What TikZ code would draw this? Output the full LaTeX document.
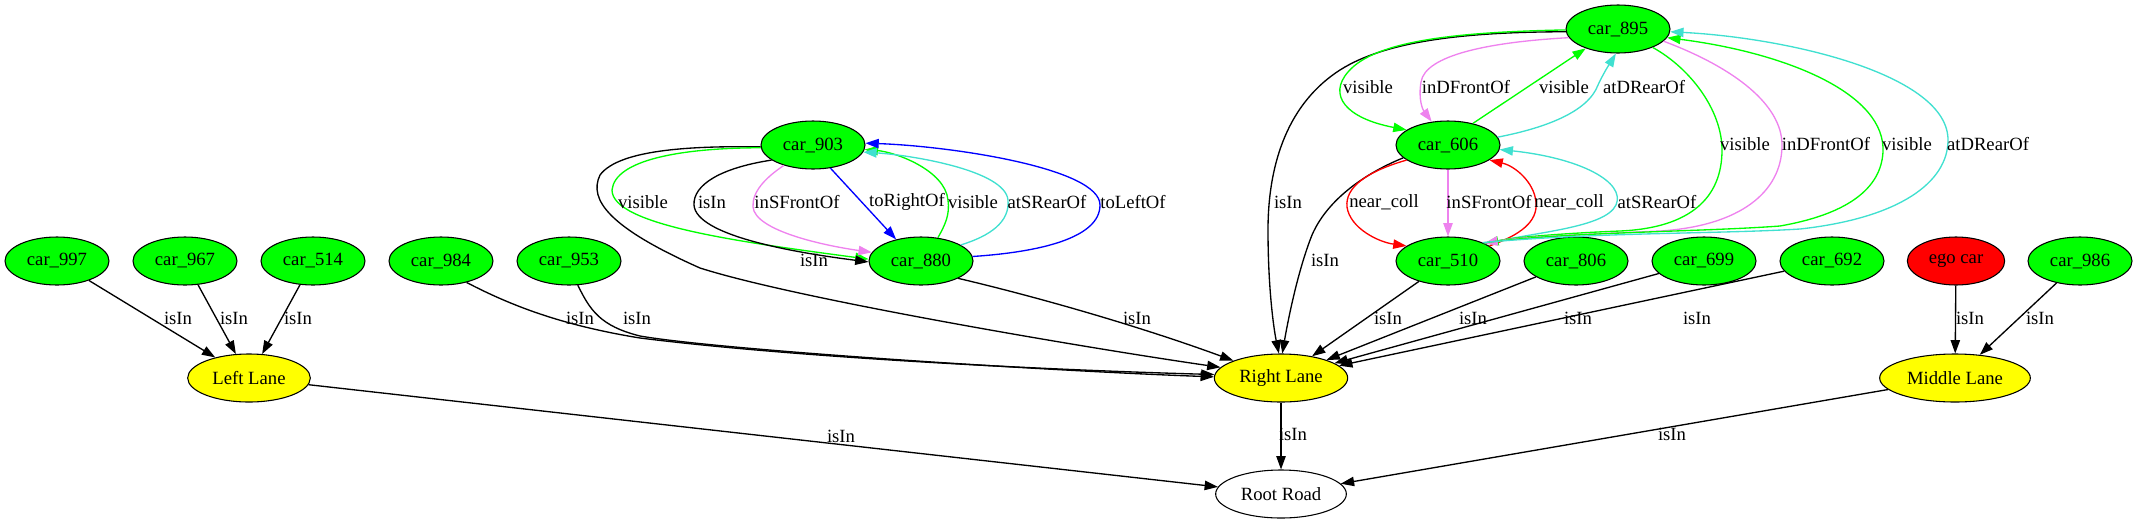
\documentclass[tikz,border=0pt]{standalone}
\usepackage{fontspec}
\setmainfont{Liberation Serif}
\usetikzlibrary{shapes.geometric,arrows.meta}
\definecolor{gvgreen}{HTML}{00FF00}
\definecolor{gvviolet}{HTML}{EE82EE}
\definecolor{gvturq}{HTML}{40E0D0}
\definecolor{gvyellow}{HTML}{FFFF00}
\definecolor{gvred}{HTML}{FF0000}
\definecolor{gvblue}{HTML}{0000FF}
\begin{document}
\begin{tikzpicture}[x=0.75bp,y=-0.75bp,
  every node/.style={font=\fontsize{14bp}{16bp}\selectfont},
  gnode/.style={ellipse,draw,line width=0.8bp,minimum height=36bp,inner sep=0pt},
  car/.style={gnode,fill=gvgreen,minimum width=78bp},
  lane/.style={gnode,fill=gvyellow},
  conn/.style={line width=1bp,-{Triangle[length=10bp,width=7bp]}},
  lbl/.style={inner sep=0pt}]
\useasboundingbox (0,0) rectangle (2137,523);
% nodes
\node[car] (c997) at (57,261) {car\_997};
\node[car] (c967) at (185,261) {car\_967};
\node[car] (c514) at (313,261) {car\_514};
\node[car] (c984) at (441,261) {car\_984};
\node[car] (c953) at (569,261) {car\_953};
\node[car] (c903) at (813,145) {car\_903};
\node[car] (c880) at (921,261) {car\_880};
\node[car] (c895) at (1618,29) {car\_895};
\node[car] (c606) at (1448,145) {car\_606};
\node[car] (c510) at (1448,261) {car\_510};
\node[car] (c806) at (1576,261) {car\_806};
\node[car] (c699) at (1704,261) {car\_699};
\node[car] (c692) at (1832,261) {car\_692};
\node[gnode,fill=gvred,minimum width=73bp] (ego) at (1956,261) {ego car};
\node[car] (c986) at (2080,261) {car\_986};
\node[lane,minimum width=92bp] (LL) at (249,378) {Left Lane};
\node[lane,minimum width=100bp] (RL) at (1281,378) {Right Lane};
\node[lane,minimum width=113bp] (ML) at (1955,378) {Middle Lane};
\node[gnode,fill=white,minimum width=98bp] (RR) at (1281,494) {Root Road};
% left lane group
\draw[conn] (c997) -- (LL);
\draw[conn] (c967) -- (LL);
\draw[conn] (c514) -- (LL);
\draw[conn] (LL) -- (RR);
\draw[conn] (c984.320) .. controls (510,305) and (560,325) .. (640,338) .. controls (800,358) and (1050,370) .. (RL.177);
\draw[conn] (c953.290) .. controls (590,310) and (600,326) .. (640,336) .. controls (720,350) and (1050,371) .. (RL.179);
% 903 / 880 group
\draw[conn] (c903.182) .. controls (700,146) and (620,148) .. (600,175) .. controls (588,200) and (610,228) .. (700,268) .. controls (800,300) and (1100,350) .. (RL.170);
\draw[conn] (c880.335) .. controls (1050,300) and (1150,330) .. (RL.160);
\draw[conn,gvgreen] (c903.183) .. controls (680,148) and (615,160) .. (612,190) .. controls (612,225) and (740,242) .. (c880.178);
\draw[conn] (c903.200) .. controls (720,168) and (693,185) .. (694,205) .. controls (696,235) and (790,252) .. (c880.181);
\draw[conn,gvviolet] (c903.215) .. controls (765,178) and (752,192) .. (753,207) .. controls (755,230) and (820,245) .. (c880.170);
\draw[conn,gvblue] (c903.307) -- (c880.139);
\draw[conn,gvgreen] (c880.54) .. controls (945,225) and (950,215) .. (948,200) .. controls (945,170) and (895,152) .. (c903.355);
\draw[conn,gvturq] (c880.22) .. controls (990,236) and (1010,222) .. (1008,200) .. controls (1005,170) and (910,155) .. (c903.352);
\draw[conn,gvblue] (c880.5) .. controls (1040,252) and (1100,238) .. (1100,205) .. controls (1100,168) and (950,146) .. (c903.2);
% 895 / 606 / 510 group
\draw[conn] (c895.183) .. controls (1480,32) and (1390,38) .. (1340,70) .. controls (1290,102) and (1268,160) .. (1268,230) .. controls (1268,290) and (1274,330) .. (RL.95);
\draw[conn,gvgreen] (c895.181) .. controls (1460,32) and (1375,40) .. (1348,72) .. controls (1328,95) and (1345,118) .. (c606.160);
\draw[conn,gvviolet] (c895.190) .. controls (1490,42) and (1425,55) .. (1421,82) .. controls (1418,100) and (1423,110) .. (c606.125);
\draw[conn,gvgreen] (c606.41) -- (c895.211);
\draw[conn,gvturq] (c606.9) .. controls (1545,128) and (1588,112) .. (1598,85) .. controls (1605,70) and (1612,60) .. (c895.265);
\draw[conn] (c606.196) .. controls (1368,172) and (1328,198) .. (1312,235) .. controls (1298,270) and (1288,320) .. (RL.87);
\draw[conn,gvred] (c606.200) .. controls (1365,172) and (1345,188) .. (1347,207) .. controls (1350,228) and (1378,242) .. (c510.160);
\draw[conn,gvviolet] (c606.south) -- (c510.north);
\draw[conn,gvred] (c510.20) .. controls (1520,235) and (1538,222) .. (1536,202) .. controls (1534,182) and (1515,166) .. (c606.340);
\draw[conn,gvturq] (c510.25) .. controls (1535,232) and (1605,228) .. (1616,205) .. controls (1626,182) and (1580,158) .. (c606.355);
\draw[conn,gvgreen] (c895.332) .. controls (1690,68) and (1722,110) .. (1722,150) .. controls (1722,198) and (1690,228) .. (1620,231) .. controls (1570,233) and (1515,237) .. (c510.25);
\draw[conn,gvviolet] (c895.345) .. controls (1735,68) and (1782,105) .. (1782,145) .. controls (1782,192) and (1740,226) .. (1660,231) .. controls (1590,234) and (1520,237) .. (c510.26);
\draw[conn,gvgreen] (c510.27) .. controls (1560,232) and (1700,232) .. (1780,226) .. controls (1860,212) and (1884,180) .. (1883,147) .. controls (1880,90) and (1780,52) .. (c895.350);
\draw[conn,gvturq] (c510.28) .. controls (1600,232) and (1720,234) .. (1800,229) .. controls (1900,218) and (1948,182) .. (1948,140) .. controls (1948,75) and (1790,38) .. (c895.357);
% right row to Right Lane
\draw[conn] (c510) -- (RL);
\draw[conn] (c806) -- (RL);
\draw[conn] (c699) -- (RL);
\draw[conn] (c692) -- (RL);
\draw[conn] (ego) -- (ML);
\draw[conn] (c986) -- (ML);
\draw[conn] (ML) -- (RR);
\draw[conn] (RL) -- (RR);
% labels
\node[lbl] (t1) at (178,318) {isIn};
\node[lbl] (t2) at (234,318) {isIn};
\node[lbl] (t3) at (298,318) {isIn};
\node[lbl] (t4) at (580,318) {isIn};
\node[lbl] (t5) at (637,318) {isIn};
\node[lbl] (t6) at (841,436) {isIn};
\node[lbl] (t7) at (643,202) {visible};
\node[lbl] (t8) at (712,202) {isIn};
\node[lbl] (t9) at (797,202) {inSFrontOf};
\node[lbl] (t10) at (907,202) {toRightOf};
\node[lbl] (t11) at (973,202) {visible};
\node[lbl] (t12) at (1047,202) {atSRearOf};
\node[lbl] (t13) at (1133,202) {toLeftOf};
\node[lbl] (t14) at (814,260) {isIn};
\node[lbl] (t15) at (1137,318) {isIn};
\node[lbl] (t16) at (1288,202) {isIn};
\node[lbl] (t17) at (1368,87) {visible};
\node[lbl] (t18) at (1466,87) {inDFrontOf};
\node[lbl] (t19) at (1564,87) {visible};
\node[lbl] (t20) at (1644,87) {atDRearOf};
\node[lbl] (t21) at (1325,260) {isIn};
\node[lbl] (t22) at (1384,202) {near\_coll};
\node[lbl] (t23) at (1489,202) {inSFrontOf};
\node[lbl] (t24) at (1569,202) {near\_coll};
\node[lbl] (t25) at (1657,202) {atSRearOf};
\node[lbl] (t26) at (1745,144) {visible};
\node[lbl] (t27) at (1826,144) {inDFrontOf};
\node[lbl] (t28) at (1907,144) {visible};
\node[lbl] (t29) at (1988,144) {atDRearOf};
\node[lbl] (t30) at (1388,318) {isIn};
\node[lbl] (t31) at (1473,318) {isIn};
\node[lbl] (t32) at (1578,318) {isIn};
\node[lbl] (t33) at (1697,318) {isIn};
\node[lbl] (t34) at (1970,318) {isIn};
\node[lbl] (t35) at (2040,318) {isIn};
\node[lbl] (t36) at (1293,434) {isIn};
\node[lbl] (t37) at (1672,434) {isIn};
\end{tikzpicture}
\end{document}
